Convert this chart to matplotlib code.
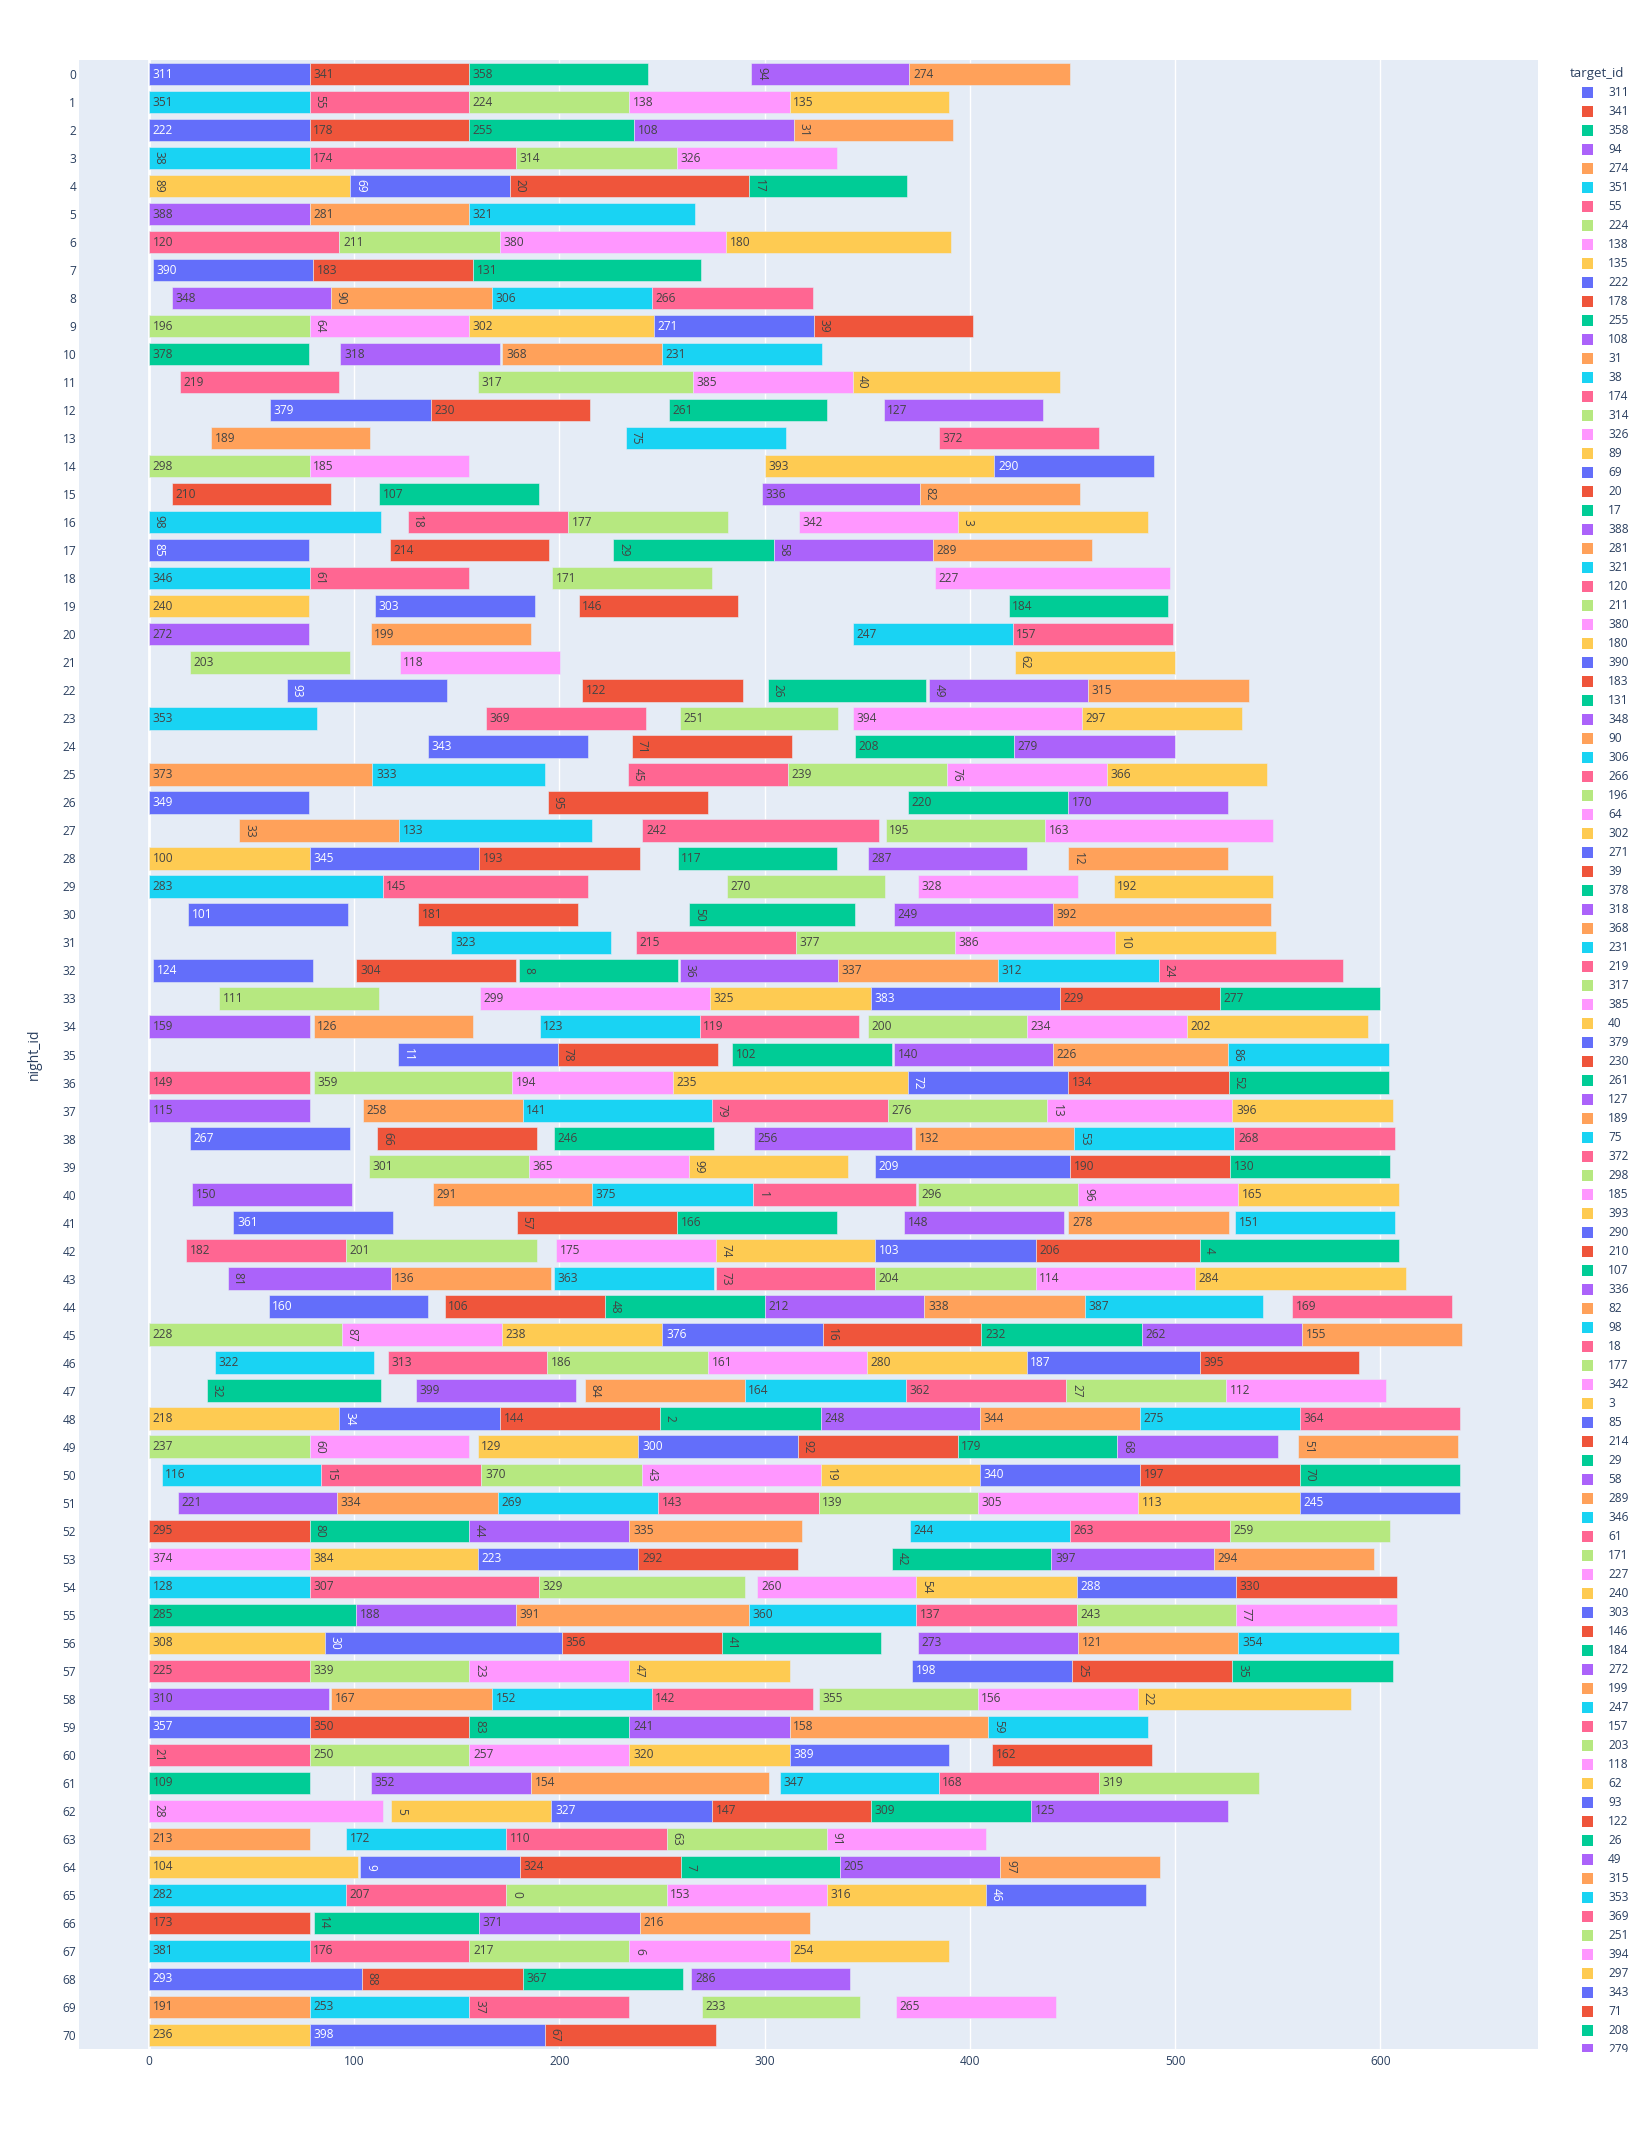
import matplotlib
matplotlib.use('Agg')
import matplotlib.pyplot as plt
from matplotlib.patches import Rectangle

# ---------------- data (row index = night_id) ----------------
night_ids = list(range(71))

target_ids = [
    [311, 341, 358, 94, 274], [351, 55, 224, 138, 135], [222, 178, 255, 108, 31],
    [38, 174, 314, 326], [89, 69, 20, 17], [388, 281, 321], [120, 211, 380, 180],
    [390, 183, 131], [348, 90, 306, 266], [196, 64, 302, 271, 39], [378, 318, 368, 231],
    [219, 317, 385, 40], [379, 230, 261, 127], [189, 75, 372], [298, 185, 393, 290],
    [210, 107, 336, 82], [98, 18, 177, 342, 3], [85, 214, 29, 58, 289], [346, 61, 171, 227],
    [240, 303, 146, 184], [272, 199, 247, 157], [203, 118, 62], [93, 122, 26, 49, 315],
    [353, 369, 251, 394, 297], [343, 71, 208, 279], [373, 333, 45, 239, 76, 366],
    [349, 95, 220, 170], [33, 133, 242, 195, 163], [100, 345, 193, 117, 287, 12],
    [283, 145, 270, 328, 192], [101, 181, 50, 249, 392], [323, 215, 377, 386, 10],
    [124, 304, 8, 36, 337, 312, 24], [111, 299, 325, 383, 229, 277],
    [159, 126, 123, 119, 200, 234, 202], [11, 78, 102, 140, 226, 86],
    [149, 359, 194, 235, 72, 134, 52], [115, 258, 141, 79, 276, 13, 396],
    [267, 66, 246, 256, 132, 53, 268], [301, 365, 99, 209, 190, 130],
    [150, 291, 375, 1, 296, 96, 165], [361, 57, 166, 148, 278, 151],
    [182, 201, 175, 74, 103, 206, 4], [81, 136, 363, 73, 204, 114, 284],
    [160, 106, 48, 212, 338, 387, 169], [228, 87, 238, 376, 16, 232, 262, 155],
    [322, 313, 186, 161, 280, 187, 395], [32, 399, 84, 164, 362, 27, 112],
    [218, 34, 144, 2, 248, 344, 275, 364], [237, 60, 129, 300, 92, 179, 68, 51],
    [116, 15, 370, 43, 19, 340, 197, 70], [221, 334, 269, 143, 139, 305, 113, 245],
    [295, 80, 44, 335, 244, 263, 259], [374, 384, 223, 292, 42, 397, 294],
    [128, 307, 329, 260, 54, 288, 330], [285, 188, 391, 360, 137, 243, 77],
    [308, 30, 356, 41, 273, 121, 354], [225, 339, 23, 47, 198, 25, 35],
    [310, 167, 152, 142, 355, 156, 22], [357, 350, 83, 241, 158, 59],
    [21, 250, 257, 320, 389, 162], [109, 352, 154, 347, 168, 319],
    [28, 5, 327, 147, 309, 125], [213, 172, 110, 63, 91], [104, 9, 324, 7, 205, 97],
    [282, 207, 0, 153, 316, 46], [173, 14, 371, 216], [381, 176, 217, 6, 254],
    [293, 88, 367, 286], [191, 253, 37, 233, 265], [236, 398, 67],
]

starts = [
    [0, 78.3, 156, 293.5, 370.5], [0, 78.3, 156, 234.1, 312.2], [0, 78.3, 156, 236.3, 314.1],
    [0, 78.3, 178.7, 257.2], [0, 98.1, 175.9, 292.4], [0, 78.3, 156], [0, 92.8, 171.1, 281.1],
    [2, 80, 157.8], [11.1, 88.7, 167.2, 245], [0, 78.3, 156, 246.1, 324.1], [0, 93.3, 172.2, 250],
    [15, 160.2, 265.2, 342.8], [59.1, 137.2, 253.5, 358], [30.2, 232.4, 385], [0, 78.3, 300.2, 411.9],
    [11.1, 112.2, 298.5, 375.7], [0, 126.1, 204.1, 316.5, 394], [0, 117.2, 226.3, 304.3, 381.9],
    [0, 78.3, 196.3, 383], [0, 110.2, 209.3, 418.9], [0, 108, 343, 420.8], [20, 122.2, 422],
    [67.2, 211.1, 301.5, 380, 457.6], [0, 164.3, 258.7, 343, 454.7], [136.1, 235.2, 344.1, 421.6],
    [0, 108.9, 233.5, 311.3, 388.8, 466.9], [0, 194.3, 369.9, 447.8], [44.1, 122, 240.4, 359, 436.8],
    [0, 78.3, 160.9, 257.6, 350.1, 448], [0, 113.9, 281.5, 374.8, 470], [19.1, 131.3, 263.3, 363, 440.5],
    [147.4, 237.4, 315.2, 392.7, 470.9], [2, 101.1, 180.2, 258.7, 335.6, 413.7, 491.9],
    [34.1, 161.3, 273.3, 351.8, 443.7, 521.8], [0, 80.2, 190.4, 268.3, 350.1, 427.7, 505.8],
    [121.3, 199.1, 284.3, 363, 440.5, 525.8], [0, 80.2, 177, 255.2, 369.6, 448, 526],
    [0, 104.1, 182, 274.3, 359.9, 437.8, 527.9], [20, 111.3, 197.4, 294.6, 373.2, 450.9, 528.9],
    [107.2, 185.2, 263, 353.8, 448.9, 526.8], [21.1, 138.3, 215.9, 294.3, 374.8, 452.8, 530.8],
    [41.1, 179.3, 257.2, 368, 448, 529.1], [18, 95.9, 198.3, 276.1, 353.8, 432, 511.9],
    [38.3, 117.8, 197.4, 276.3, 353.6, 432, 509.8], [58.3, 144.1, 222.2, 300, 377.8, 455.9, 556.9],
    [0, 94.1, 172, 250.2, 328.3, 405.6, 483.8, 562], [32.2, 116.3, 193.9, 272.4, 349.7, 427.7, 511.9],
    [28.3, 130.2, 212.4, 290.2, 368.8, 447, 524.9], [0, 92.8, 171.1, 249.1, 327.4, 404.8, 483, 560.9],
    [0, 78.3, 160.2, 238.5, 316.3, 394, 471.9, 560.1], [6.1, 83.9, 162, 240.2, 327.4, 404.8, 483, 560.9],
    [14.1, 91.7, 170, 248, 326.3, 403.7, 481.9, 560.9], [0, 78.3, 156.1, 234.1, 370.9, 448.9, 526.6],
    [0, 78.3, 160.2, 238.5, 362, 439.7, 518.9], [0, 78.3, 190, 296.5, 373.8, 452, 529.7],
    [0, 101.1, 178.9, 292.4, 373.8, 452, 529.7], [0, 85.9, 201.3, 279.3, 374.8, 452.8, 530.8],
    [0, 78.3, 156.1, 234.1, 371.9, 449.9, 527.9], [0, 88.9, 167.2, 245, 326.5, 403.7, 481.9],
    [0, 78.3, 156.1, 234.1, 312.2, 408.9], [0, 78.3, 156.1, 234.1, 312.2, 411],
    [0, 108, 186.1, 307.6, 384.8, 462.8], [0, 118, 196.1, 274.3, 351.8, 429.7],
    [0, 96.1, 174.1, 252.2, 330.4], [0, 103, 180.9, 259.1, 336.6, 414.8],
    [0, 96.1, 174.1, 252.2, 330.4, 407.7], [0, 80.2, 160.9, 239.1], [0, 78.3, 156.1, 234.1, 312.2],
    [0, 103.9, 182, 264.3], [0, 78.3, 156.1, 269.3, 363.8], [0, 78.3, 193],
]

ends = [
    [78.3, 156, 243, 370.5, 449], [78.3, 156, 234.1, 312.2, 389.6], [78.3, 156, 236.3, 314.1, 391.7],
    [78.3, 178.7, 257.2, 335], [98.1, 175.9, 292.4, 369.5], [78.3, 156, 265.9], [92.8, 171.1, 281.1, 390.6],
    [80, 157.8, 269.1], [88.7, 167.2, 245, 323.3], [78.3, 156, 246.1, 324.1, 401.7], [78.1, 170.9, 250, 328],
    [92.8, 265.2, 342.8, 443.7], [137.2, 215, 330.4, 435.8], [107.8, 310.2, 462.8], [78.3, 156.1, 411.9, 489.8],
    [88.9, 190, 375.7, 453.6], [113, 204.1, 282.2, 394, 486.7], [78.1, 195, 304.3, 381.9, 459.7],
    [78.3, 156.1, 274.1, 497.7], [78.1, 188, 287.2, 496.7], [78.1, 186.1, 420.8, 499], [97.8, 200.2, 499.8],
    [145, 289.3, 378.8, 457.6, 536], [81.7, 242.2, 335.6, 454.7, 532.8], [214.1, 313.3, 421.6, 499.8],
    [108.9, 192.8, 311.3, 388.8, 466.9, 544.7], [78.1, 272.2, 447.8, 525.8], [122, 216.1, 355.9, 436.8, 547.8],
    [78.3, 160.9, 239.1, 335, 427.7, 525.8], [113.9, 214.1, 358.8, 452.6, 547.8], [97, 208.9, 343.9, 440.5, 546.6],
    [225, 315.2, 392.7, 470.9, 548.9], [80, 178.9, 258, 335.6, 413.7, 491.9, 581.9],
    [112, 273.3, 351.8, 443.7, 521.8, 600], [78.3, 157.8, 268.3, 346, 427.7, 505.8, 593.8],
    [199.1, 277.2, 362, 440.5, 525.8, 604], [78.3, 177, 255.2, 369.6, 448, 526, 604],
    [78.3, 182, 274.3, 359.9, 437.8, 527.9, 606], [97.8, 189.1, 275.2, 371.7, 450.9, 528.9, 606.9],
    [185.2, 263, 340.7, 448.9, 526.8, 604.8], [98.9, 215.9, 294.3, 373.8, 452.8, 530.8, 608.9],
    [118.9, 257.2, 335, 445.9, 526, 606.9], [95.9, 189.1, 276.1, 353.8, 432, 511.9, 608.9],
    [117.8, 196.1, 275.2, 353.6, 432, 509.8, 612.7], [135.9, 222.2, 300, 377.8, 455.9, 542.8, 634.9],
    [94.1, 172, 250.2, 328.3, 405.6, 483.8, 562, 639.7], [109.8, 193.9, 272.4, 349.7, 427.7, 511.9, 589.8],
    [113, 208, 290.2, 368.8, 447, 524.9, 602.9], [92.8, 171.1, 249.1, 327.4, 404.8, 483, 560.9, 639],
    [78.3, 156.1, 238.5, 316.3, 394, 471.9, 549.9, 638], [83.9, 162, 240.2, 327.4, 404.8, 483, 560.9, 639],
    [91.7, 170, 248, 326.3, 403.7, 481.9, 560.9, 639], [78.3, 156.1, 234.1, 318.3, 448.9, 526.6, 604.8],
    [78.3, 160.2, 238.5, 316.3, 439.7, 518.9, 596.9], [78.3, 190, 290.2, 373.8, 452, 529.7, 607.9],
    [101.1, 178.9, 292.4, 373.8, 452, 529.7, 607.9], [85.9, 201.3, 279.3, 356.8, 452.8, 530.8, 608.9],
    [78.3, 156.1, 234.1, 312.2, 449.9, 527.9, 606], [87.8, 167.2, 245, 323.3, 403.7, 481.9, 585.7],
    [78.3, 156.1, 234.1, 312.2, 408.9, 486.7], [78.3, 156.1, 234.1, 312.2, 389.8, 488.8],
    [78.3, 186.1, 302.2, 384.8, 462.8, 540.7], [113.9, 196.1, 274.3, 351.8, 429.7, 525.8],
    [78.3, 174.1, 252.2, 330.4, 407.7], [102, 180.9, 259.1, 336.6, 414.8, 492.7],
    [96.1, 174.1, 252.2, 330.4, 407.7, 485.9], [78.3, 160.9, 239.1, 322.2], [78.3, 156.1, 234.1, 312.2, 389.8],
    [103.9, 182, 260.2, 341.8], [78.3, 156.1, 234.1, 346.6, 441.8], [78.3, 193, 276.1],
]

x_ticks = [0, 100, 200, 300, 400, 500, 600]

# ---------------- styling ----------------
PALETTE = ['#636EFA', '#EF553B', '#00CC96', '#AB63FA', '#FFA15A',
           '#19D3F3', '#FF6692', '#B6E880', '#FF97FF', '#FECB52']
BG = '#E5ECF6'
FONT_COLOR = '#2a3f5f'
plt.rcParams['font.family'] = ['Open Sans', 'DejaVu Sans']

W, H = 1647, 2130
fig = plt.figure(figsize=(W / 100, H / 100), dpi=100)
fig.patch.set_facecolor('white')

L, R, T, B = 79, 1538, 60, 2049
ax = fig.add_axes([L / W, 1 - B / H, (R - L) / W, (B - T) / H])
ax.set_facecolor(BG)
for s in ax.spines.values():
    s.set_visible(False)

# colour per target, in order of first appearance (as plotly assigns traces)
legend_order = []
color_of = {}
for row in target_ids:
    for t in row:
        if t not in color_of:
            color_of[t] = PALETTE[len(legend_order) % len(PALETTE)]
            legend_order.append(t)


def text_color(hexc):
    r, g, b = int(hexc[1:3], 16), int(hexc[3:5], 16), int(hexc[5:7], 16)
    bright = (r * 299 + g * 587 + b * 114) / 1000
    return 'white' if bright < 128 else '#444444'


ys, lefts, widths, cols = [], [], [], []
for n, trow, srow, erow in zip(night_ids, target_ids, starts, ends):
    for t, s, e in zip(trow, srow, erow):
        ys.append(n)
        lefts.append(s)
        widths.append(e - s)
        cols.append(color_of[t])

ax.barh(ys, widths, left=lefts, height=0.8, color=cols,
        edgecolor=BG, linewidth=0.4, zorder=2)

for n, trow, srow in zip(night_ids, target_ids, starts):
    for t, s in zip(trow, srow):
        lab = str(t)
        c = text_color(color_of[t])
        if len(lab) <= 2:
            ax.annotate(lab, xy=(s, n), xytext=(2.6, 0), textcoords='offset points',
                        ha='left', va='center', rotation=-90, fontsize=8.6,
                        color=c, zorder=3)
        else:
            ax.annotate(lab, xy=(s, n), xytext=(2.6, 0), textcoords='offset points',
                        ha='left', va='center', fontsize=8.6, color=c, zorder=3)

ax.set_xlim(-34.1, 676.8)
ax.set_ylim(70.5, -0.5)
ax.set_xticks(x_ticks)
ax.set_xticklabels([str(v) for v in x_ticks])
ax.set_yticks(night_ids)
ax.set_yticklabels([str(v) for v in night_ids])
ax.tick_params(axis='both', length=0, labelsize=8.6, colors=FONT_COLOR)
ax.tick_params(axis='y', pad=2)
ax.tick_params(axis='x', pad=4)
ax.set_axisbelow(True)
ax.grid(axis='x', color='white', linewidth=1)
ax.axvline(0, color='white', linewidth=2, zorder=1)

fig.text(34 / W, 1 - (T + B) / 2 / H, 'night_id', rotation=90, ha='center',
         va='center', fontsize=10, color=FONT_COLOR)

# ---------------- legend (clipped like plotly's scrolling legend) ----------------
LX0, LY0, LY1 = 1555, 60, 2052
lax = fig.add_axes([LX0 / W, 1 - LY1 / H, (W - LX0) / W, (LY1 - LY0) / H])
lax.set_xlim(0, W - LX0)
lax.set_ylim(LY1 - LY0, 0)
lax.axis('off')
lax.text(1570 - LX0, 73 - LY0, 'target_id', ha='left', va='center',
         fontsize=9.5, color=FONT_COLOR, clip_on=True)
for i, t in enumerate(legend_order):
    yy = 92.4 - LY0 + i * 19.0
    if yy - 6 > LY1 - LY0:
        break  # beyond the visible (scrolled) legend area
    lax.add_patch(Rectangle((1587.5 - LX0 - 5.5, yy - 5.5), 11, 11,
                            facecolor=color_of[t], edgecolor='none', clip_on=True))
    lax.text(1608 - LX0, yy, str(t), ha='left', va='center', fontsize=8.6,
             color=FONT_COLOR, clip_on=True)

fig.savefig('out.png', dpi=100)
